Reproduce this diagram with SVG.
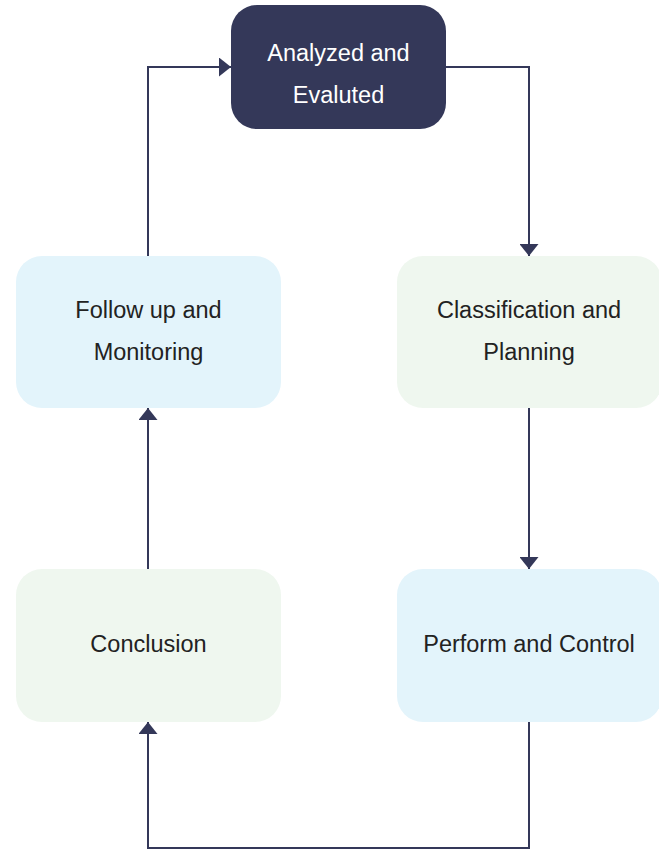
<svg xmlns="http://www.w3.org/2000/svg" width="659" height="850" viewBox="0 0 659 850">
<style>
.t{font-family:"Liberation Sans",Arial,sans-serif;font-size:23.5px;text-anchor:middle;fill:#222222}
.w{fill:#ffffff}
.blue{fill:#e3f4fb}
.green{fill:#eff7ef}
.dark{fill:#343859}
.c{fill:none;stroke:#343859;stroke-width:2}
</style>
<defs>
<marker id="ah" viewBox="0 0 12 19" refX="12" refY="9.5" markerWidth="12" markerHeight="19" markerUnits="userSpaceOnUse" orient="auto">
<path d="M0,0 L12,9.5 L0,19 Z" fill="#343859"/>
</marker>
</defs>
<rect width="659" height="850" fill="#ffffff"/>
<g id="connectors">
<polyline class="c" points="148,256 148,67 231,67" marker-end="url(#ah)"/>
<polyline class="c" points="446,67 529,67 529,256" marker-end="url(#ah)"/>
<polyline class="c" points="529,408 529,569" marker-end="url(#ah)"/>
<polyline class="c" points="529,722 529,848 148,848 148,722" marker-end="url(#ah)"/>
<polyline class="c" points="148,569 148,408" marker-end="url(#ah)"/>
</g>
<g id="analyzed">
<rect class="dark" x="231" y="5" width="215" height="124" rx="26"/>
<text class="t w" x="338.5" y="61">Analyzed and</text>
<text class="t w" x="338.5" y="103">Evaluted</text>
</g>
<g id="follow">
<rect class="blue" x="16" y="256" width="265" height="152" rx="26"/>
<text class="t" x="148.5" y="318">Follow up and</text>
<text class="t" x="148.5" y="360">Monitoring</text>
</g>
<g id="classification">
<rect class="green" x="397" y="256" width="265" height="152" rx="26"/>
<text class="t" x="529" y="318">Classification and</text>
<text class="t" x="529" y="360">Planning</text>
</g>
<g id="conclusion">
<rect class="green" x="16" y="569" width="265" height="153" rx="26"/>
<text class="t" x="148.5" y="652">Conclusion</text>
</g>
<g id="perform">
<rect class="blue" x="397" y="569" width="265" height="153" rx="26"/>
<text class="t" x="529" y="652">Perform and Control</text>
</g>
</svg>
